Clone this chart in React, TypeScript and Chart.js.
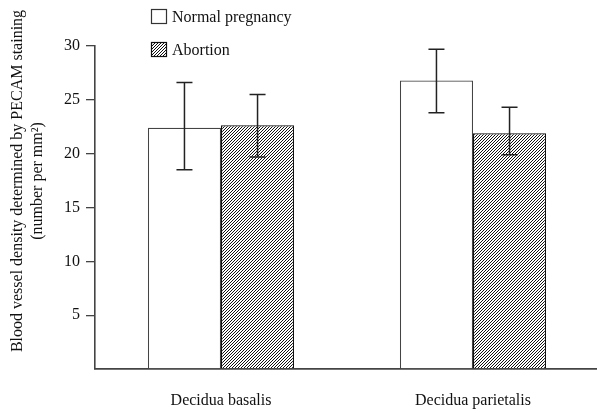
import React, { useEffect, useRef } from "react";
import { Chart, registerables } from "chart.js";

Chart.register(...registerables);

const categories = ["Decidua basalis", "Decidua parietalis"];
const seriesNames = ["Normal pregnancy", "Abortion"];
const normalValues = [22.4, 26.8];
const normalLow = [18.5, 23.8];
const normalHigh = [26.6, 29.7];
const abortionValues = [22.65, 21.9];
const abortionLow = [19.7, 19.9];
const abortionHigh = [25.5, 24.3];
const yTicks = [0, 5, 10, 15, 20, 25, 30];
const yTitle = ["Blood vessel density determined by PECAM staining", "(number per mm²)"];

const FONT = "'Liberation Serif', 'Times New Roman', serif";

function makeHatch(): CanvasPattern | string {
  const s = 3;
  const c = document.createElement("canvas");
  c.width = s;
  c.height = s;
  const g = c.getContext("2d");
  if (!g) return "#888";
  g.fillStyle = "#ffffff";
  g.fillRect(0, 0, s, s);
  g.strokeStyle = "#111";
  g.lineWidth = 1.0;
  g.beginPath();
  g.moveTo(-1, s + 1);
  g.lineTo(s + 1, -1);
  g.moveTo(-1, 1);
  g.lineTo(1, -1);
  g.moveTo(s - 1, s + 1);
  g.lineTo(s + 1, s - 1);
  g.stroke();
  const p = g.createPattern(c, "repeat");
  return p || "#888";
}

export default function App() {
  const ref = useRef<HTMLCanvasElement | null>(null);

  useEffect(() => {
    const canvas = ref.current;
    if (!canvas) return;
    const hatch = makeHatch();
    const lows = [normalLow, abortionLow];
    const highs = [normalHigh, abortionHigh];

    const errorBars = {
      id: "errorBars",
      afterDatasetsDraw(chart: any) {
        const ctx = chart.ctx;
        const y = chart.scales.y;
        ctx.save();
        ctx.strokeStyle = "#222";
        ctx.lineWidth = 1.5;
        chart.data.datasets.forEach((_: any, di: number) => {
          const meta = chart.getDatasetMeta(di);
          meta.data.forEach((el: any, i: number) => {
            const x = el.x;
            const yt = y.getPixelForValue(highs[di][i]);
            const yb = y.getPixelForValue(lows[di][i]);
            ctx.beginPath();
            ctx.moveTo(x, yt);
            ctx.lineTo(x, yb);
            ctx.moveTo(x - 8, yt);
            ctx.lineTo(x + 8, yt);
            ctx.moveTo(x - 8, yb);
            ctx.lineTo(x + 8, yb);
            ctx.stroke();
          });
        });
        ctx.restore();
      },
    };

    const decorations = {
      id: "decorations",
      afterDraw(chart: any) {
        const ctx = chart.ctx;
        ctx.save();
        ctx.font = `16px ${FONT}`;
        ctx.fillStyle = "#111";
        const fills = ["#ffffff", hatch];
        const borders = ["#333", "#111"];
        const tops = [9, 42];
        seriesNames.forEach((name, i) => {
          ctx.fillStyle = fills[i] as any;
          ctx.fillRect(151.5, tops[i] + 0.5, 15, 14);
          ctx.strokeStyle = borders[i];
          ctx.lineWidth = 1.2;
          ctx.strokeRect(151.5, tops[i] + 0.5, 15, 14);
          ctx.fillStyle = "#111";
          ctx.textAlign = "left";
          ctx.textBaseline = "alphabetic";
          ctx.fillText(name, 172, tops[i] + 13);
        });
        const xs = [18, 38];
        yTitle.forEach((line, i) => {
          ctx.save();
          ctx.translate(xs[i], 181);
          ctx.rotate(-Math.PI / 2);
          ctx.textAlign = "center";
          ctx.textBaseline = "middle";
          ctx.fillText(line, 0, 0);
          ctx.restore();
        });
        ctx.restore();
      },
    };

    const chart = new Chart(canvas, {
      type: "bar",
      data: {
        labels: categories,
        datasets: [
          {
            label: seriesNames[0],
            data: normalValues,
            backgroundColor: "#ffffff",
            borderColor: "#444",
            borderWidth: 1.2,
          },
          {
            label: seriesNames[1],
            data: abortionValues,
            backgroundColor: hatch as any,
            borderColor: "#111",
            borderWidth: 1.3,
          },
        ],
      },
      options: {
        responsive: false,
        animation: false,
        events: [],
        layout: { padding: { top: 46, right: 6, left: 0, bottom: 0 } },
        datasets: {
          bar: { categoryPercentage: 0.58, barPercentage: 1 },
        },
        plugins: {
          legend: { display: false },
          tooltip: { enabled: false },
          title: { display: false },
        },
        scales: {
          x: {
            afterFit(scale: any) {
              scale.height = 44;
            },
            grid: { display: false, drawTicks: false },
            border: { display: true, color: "#444", width: 1.8 },
            ticks: {
              color: "#111",
              font: { family: FONT, size: 16 },
              padding: 22,
              maxRotation: 0,
            },
          },
          y: {
            min: 0,
            max: 30,
            afterFit(scale: any) {
              scale.width = 95;
            },
            afterBuildTicks(scale: any) {
              scale.ticks = yTicks.map((v) => ({ value: v }));
            },
            grid: {
              drawOnChartArea: false,
              drawTicks: true,
              tickLength: 9,
              color: (c: any) => (c.tick && c.tick.value === 0 ? "rgba(0,0,0,0)" : "#444"),
              lineWidth: 1.3,
            },
            border: { display: true, color: "#444", width: 1.6 },
            ticks: {
              color: "#111",
              font: { family: FONT, size: 16 },
              padding: 6,
              callback: (v: any) => (Number(v) === 0 ? "" : String(v)),
            },
          },
        },
      },
      plugins: [errorBars, decorations],
    });
    return () => chart.destroy();
  }, []);

  return (
    <div style={{ position: "absolute", left: 0, top: 0, width: 597, height: 413, overflow: "hidden", background: "#fff" }}>
      <canvas ref={ref} width={605} height={413} style={{ display: "block" }} />
    </div>
  );
}
